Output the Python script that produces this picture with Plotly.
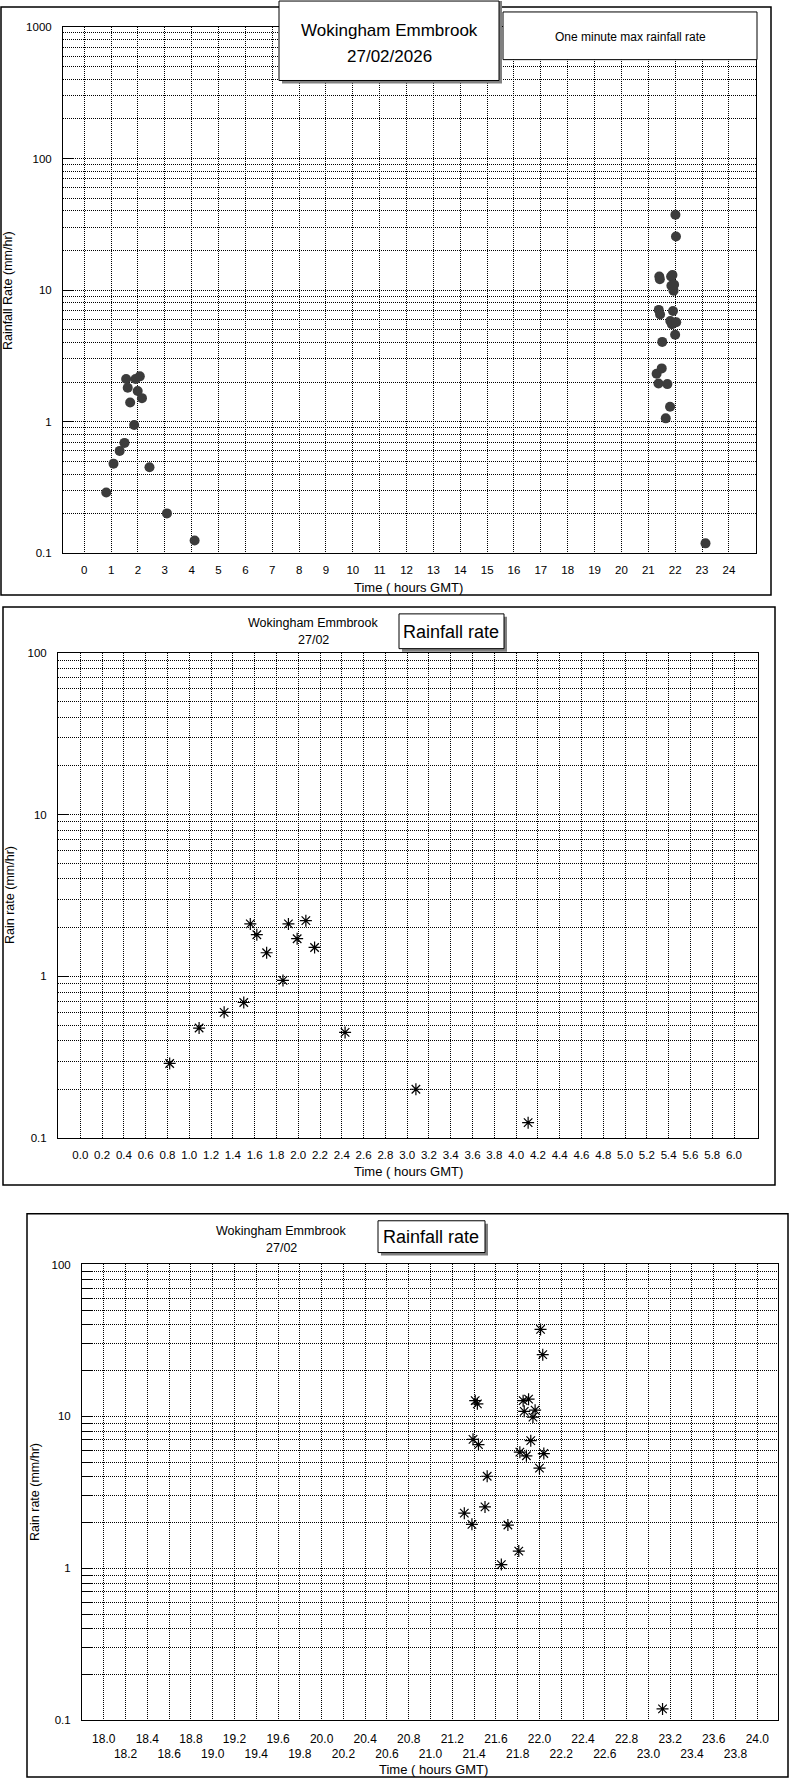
import plotly.graph_objects as go

# ---------------- data ----------------
time_hours = [0.82, 1.09, 1.32, 1.50, 1.56, 1.62, 1.71, 1.86, 1.91, 1.99, 2.07, 2.15, 2.43, 3.08, 4.11,
              21.31, 21.38, 21.39, 21.41, 21.43, 21.44, 21.50, 21.52, 21.65, 21.71, 21.81, 21.82,
              21.85, 21.86, 21.88, 21.90, 21.92, 21.94, 21.96, 22.00, 22.01, 22.03, 22.04, 23.13]
rain_rate = [0.29, 0.48, 0.60, 0.69, 2.11, 1.81, 1.40, 0.945, 2.11, 1.71, 2.21, 1.51, 0.451, 0.201, 0.125,
             2.31, 1.95, 7.07, 12.7, 12.1, 6.53, 2.54, 4.04, 1.06, 1.93, 1.30, 5.82,
             12.7, 10.8, 5.51, 13.0, 6.93, 9.9, 11.0, 4.57, 37.4, 25.5, 5.70, 0.119]

x1_labels = ["0", "1", "2", "3", "4", "5", "6", "7", "8", "9", "10", "11", "12",
             "13", "14", "15", "16", "17", "18", "19", "20", "21", "22", "23", "24"]
x2_labels = ["0.0", "0.2", "0.4", "0.6", "0.8", "1.0", "1.2", "1.4", "1.6", "1.8", "2.0",
             "2.2", "2.4", "2.6", "2.8", "3.0", "3.2", "3.4", "3.6", "3.8", "4.0", "4.2",
             "4.4", "4.6", "4.8", "5.0", "5.2", "5.4", "5.6", "5.8", "6.0"]
x3_labels = ["18.0", "18.2", "18.4", "18.6", "18.8", "19.0", "19.2", "19.4", "19.6", "19.8",
             "20.0", "20.2", "20.4", "20.6", "20.8", "21.0", "21.2", "21.4", "21.6", "21.8",
             "22.0", "22.2", "22.4", "22.6", "22.8", "23.0", "23.2", "23.4", "23.6", "23.8", "24.0"]
y_labels_1 = ["0.1", "1", "10", "100", "1000"]
y_labels_23 = ["0.1", "1", "10", "100"]

W, H = 794, 1784
FONT = "Liberation Sans, Arial, sans-serif"


def px(x):
    return x / W


def py(y):
    return 1 - y / H


def minor_vals(top):
    vals = []
    d = 0.1
    while d < top:
        for m in range(2, 10):
            vals.append(round(m * d, 6))
        d *= 10
    return vals


def xaxis(dom, rng, labels, texts, anchor, standoff, size):
    return dict(domain=[px(dom[0]), px(dom[1])], range=rng, anchor=anchor,
                tickmode="array", tickvals=[float(v) for v in labels], ticktext=texts,
                tickangle=0,
                showgrid=True, gridcolor="black", griddash="1px,1px", gridwidth=1,
                showline=True, linecolor="black", linewidth=1, mirror=True,
                ticks="", zeroline=False, ticklabelstandoff=standoff,
                tickfont=dict(family=FONT, size=size, color="black"), fixedrange=True)


def yaxis(dom, rng, labels, anchor, minor_ticks):
    return dict(domain=[py(dom[1]), py(dom[0])], type="log", range=rng, anchor=anchor,
                tickmode="array", tickvals=[float(v) for v in labels], ticktext=labels,
                showgrid=True, gridcolor="black", griddash="1px,1px", gridwidth=1,
                showline=True, linecolor="black", linewidth=1, mirror=True,
                ticks="inside", ticklen=10, tickcolor="black", tickwidth=1,
                minor=dict(tickmode="array", tickvals=minor_vals(10 ** rng[1]),
                           showgrid=True, gridcolor="black", griddash="1px,1px", gridwidth=1,
                           ticks=minor_ticks, ticklen=10, tickcolor="black", tickwidth=1),
                zeroline=False, ticklabelstandoff=8,
                tickfont=dict(family=FONT, size=11.5, color="black"), fixedrange=True)


fig = go.Figure()

fig.add_trace(go.Scatter(x=time_hours, y=rain_rate, mode="markers", xaxis="x", yaxis="y",
                         marker=dict(symbol="circle", size=10, color="#3c3c3c",
                                     line=dict(width=0)),
                         showlegend=False, hoverinfo="skip"))
for xa, ya in (("x2", "y2"), ("x3", "y3")):
    fig.add_trace(go.Scatter(x=time_hours, y=rain_rate, mode="markers", xaxis=xa, yaxis=ya,
                             marker=dict(symbol="asterisk-open", size=10, color="black",
                                         line=dict(width=1.2, color="black")),
                             showlegend=False, hoverinfo="skip"))

x3_text = [t if i % 2 == 0 else "<br>" + t for i, t in enumerate(x3_labels)]

fig.update_layout(
    width=W, height=H, margin=dict(l=0, r=0, t=0, b=0),
    paper_bgcolor="white", plot_bgcolor="white",
    xaxis=xaxis((63, 756), [-0.79, 25.01], x1_labels, x1_labels, "y", 6, 11.5),
    yaxis=yaxis((21, 551), [-1, 3], y_labels_1, "x", ""),
    xaxis2=xaxis((58, 758), [-0.205, 6.22], x2_labels, x2_labels, "y2", 6, 11.5),
    yaxis2=yaxis((651, 1140), [-1, 2], y_labels_23, "x2", ""),
    xaxis3=xaxis((82, 778), [17.8, 24.19], x3_labels, x3_text, "y3", 7, 12),
    yaxis3=yaxis((1267, 1726), [-1, 2], y_labels_23, "x3", "inside"),
)

shapes = []


def rect(x0, y0, x1, y1, fill=None, line=1.5, lc="black"):
    d = dict(type="rect", xref="paper", yref="paper", x0=px(x0), x1=px(x1), y0=py(y1), y1=py(y0),
             layer="above", line=dict(width=line, color=lc))
    if fill:
        d["fillcolor"] = fill
    if line == 0:
        d["line"] = dict(width=0)
    return d


# outer panel borders
shapes.append(rect(1, 1, 771, 593))
shapes.append(rect(3, 605, 775, 1187))
shapes.append(rect(27, 1216, 788, 1783))
# panel 1 title box with shadow
shapes.append(rect(282, -5, 502, 78, fill="#808080", line=0))
shapes.append(rect(279, -5, 499, 75, fill="white", line=1))
# panel 1 legend box
shapes.append(rect(503, 6, 757, 54, fill="white", line=1))
# panel 2 "Rainfall rate" box
shapes.append(rect(402, 615, 507, 650, fill="#808080", line=0))
shapes.append(rect(399, 612, 504, 647, fill="white", line=1))
# panel 3 "Rainfall rate" box
shapes.append(rect(381, 1226, 488, 1258, fill="#808080", line=0))
shapes.append(rect(378, 1223, 485, 1255, fill="white", line=1))

fig.update_layout(shapes=shapes)


def ann(text, x, y, size, angle=0, xanchor="center"):
    return dict(text=text, x=px(x), y=py(y), xref="paper", yref="paper", showarrow=False,
                xanchor=xanchor, yanchor="middle", textangle=angle,
                font=dict(family=FONT, size=size, color="black"))


annotations = [
    ann("Wokingham Emmbrook", 389, 25, 17),
    ann("27/02/2026", 389, 51, 17),
    ann("One minute max rainfall rate", 630, 31, 12),
    ann("Rainfall Rate (mm/hr)", 8, 287, 12.5, angle=-90),
    ann("Time ( hours GMT)", 408, 585, 13),
    ann("Wokingham Emmbrook", 313, 621, 12.5),
    ann("27/02", 313, 638, 12.5),
    ann("Rainfall rate", 451, 630, 18),
    ann("Rain rate (mm/hr)", 10, 895, 12.5, angle=-90),
    ann("Time ( hours GMT)", 408, 1173, 13),
    ann("Wokingham Emmbrook", 281, 1233, 12.5),
    ann("27/02", 281, 1250, 12.5),
    ann("Rainfall rate", 431, 1239, 18),
    ann("Rain rate (mm/hr)", 35, 1496, 12.5, angle=-90),
    ann("Time ( hours GMT)", 433, 1775, 13),
]
fig.update_layout(annotations=annotations)

fig.write_html("out.html", config={"displayModeBar": False, "staticPlot": True},
               post_script="document.body.style.margin='0';")
